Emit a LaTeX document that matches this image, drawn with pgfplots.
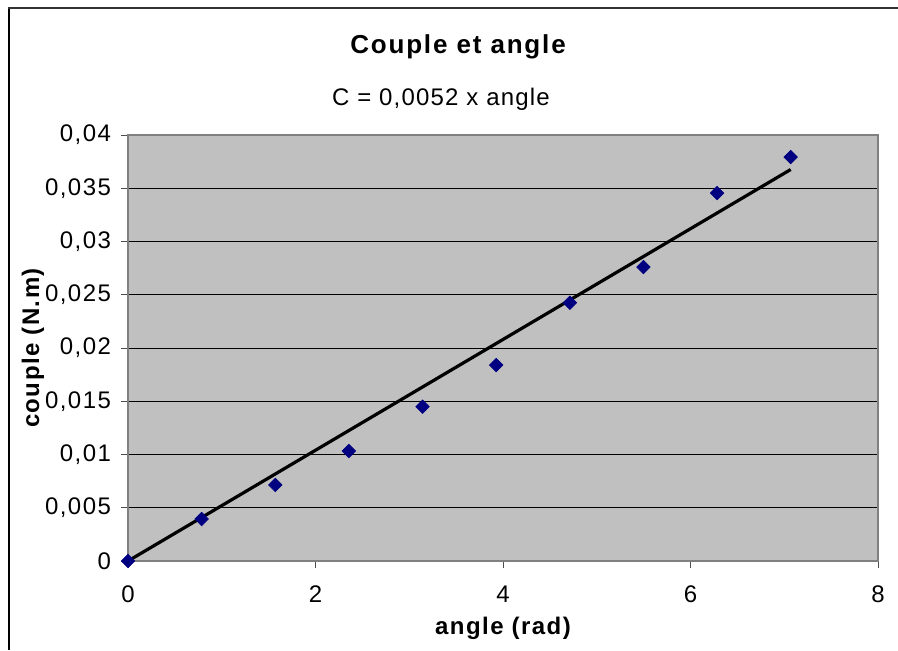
\documentclass[border=0pt]{standalone}
\usepackage{fontspec}
\setmainfont{Liberation Sans}
\usepackage{pgfplots}
\pgfplotsset{compat=1.18}

\definecolor{plotgray}{HTML}{C0C0C0}
\definecolor{bordergray}{HTML}{808080}
\definecolor{navymark}{HTML}{000080}

% measured torque against twist angle (multiples of pi/4)
\begin{document}
\begin{tikzpicture}[x=1pt,y=1pt]
\path[use as bounding box] (0,0) rectangle (449,325);
% chart frame
\draw[line width=0.6pt,black] (4.5,0) -- (4.5,321);
\draw[line width=1pt,black!80] (4,321) -- (449,321);

\node[font=\bfseries\fontsize{13}{15}\selectfont\addfontfeature{LetterSpace=7}] at (229,301.5) {Couple et angle};
\node[font=\fontsize{12}{14}\selectfont\addfontfeature{LetterSpace=5}] at (220.5,275.5) {C = 0,0052 x angle};

\begin{axis}[
  at={(64pt,44.5pt)}, anchor=south west,
  scale only axis, width=375pt, height=213pt,
  xmin=0, xmax=8, ymin=0, ymax=0.04,
  xtick={0,2,...,8},
  ytick={0,0.005,...,0.04},
  axis background/.style={fill=plotgray},
  axis line style={bordergray, line width=0.6pt},
  major grid style={black, line width=0.5pt},
  ymajorgrids,
  tick align=outside, tick pos=left,
  major tick length=3.5pt,
  tick style={black!70, line width=0.5pt},
  /pgf/number format/assume math mode=true,
  /pgf/number format/use comma,
  /pgf/number format/fixed,
  /pgf/number format/precision=3,
  scaled y ticks=false,
  ticklabel style={font=\fontsize{12}{14}\selectfont\addfontfeature{LetterSpace=6}},
  xticklabel style={yshift=-5.5pt},
  yticklabel style={xshift=-1.5pt},
  clip=false,
]
\addplot[black, line width=1.6pt, no marks] coordinates {(0,0) (7.0686,0.03676)};
\addplot[only marks, mark=square*, mark size=2.4pt,
  mark options={rotate=45, fill=navymark, draw=navymark, line width=0.3pt}]
  coordinates {
  (0,0)
  (0.7854,0.00394)
  (1.5708,0.00714)
  (2.3562,0.01033)
  (3.1416,0.01449)
  (3.9270,0.01840)
  (4.7124,0.02425)
  (5.4978,0.02760)
  (6.2832,0.03455)
  (7.0686,0.03793)
  };
\end{axis}

\node[font=\bfseries\fontsize{12}{14}\selectfont\addfontfeature{LetterSpace=6}] at (251.5,11) {angle (rad)};
\node[font=\bfseries\fontsize{12}{14}\selectfont\addfontfeature{LetterSpace=6}, rotate=90] at (16.5,151) {couple (N.m)};
\end{tikzpicture}
\end{document}
